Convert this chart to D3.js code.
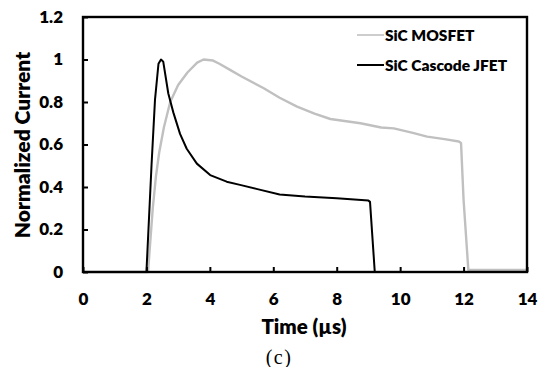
<!DOCTYPE html>
<html>
<head>
<meta charset="utf-8">
<script src="https://cdn.jsdelivr.net/npm/d3@7/dist/d3.min.js"></script>
<style>
  html, body { margin: 0; padding: 0; background: #fff; }
  svg { display: block; }
  text { font-family: Lato, "Open Sans", sans-serif; font-weight: bold; }
</style>
</head>
<body>
<svg id="chart" width="540" height="367"></svg>
<script>
// Turn-off current waveforms, normalized to their own peaks
const mosfetTime    = [0, 2.05, 2.1, 2.2, 2.3, 2.4, 2.55, 2.75, 3.0, 3.3, 3.6, 3.8, 4.1, 4.3, 4.65, 5.0, 5.7, 6.2, 6.75, 7.3, 7.8, 8.75, 9.4, 9.8, 10.4, 10.85, 11.4, 11.85, 11.92, 12.0, 12.15, 14];
const mosfetCurrent = [0, 0, 0.1, 0.3, 0.45, 0.56, 0.68, 0.8, 0.88, 0.94, 0.985, 1.0, 0.995, 0.98, 0.95, 0.92, 0.865, 0.82, 0.778, 0.745, 0.72, 0.70, 0.68, 0.676, 0.655, 0.637, 0.625, 0.614, 0.607, 0.34, 0.01, 0.01];

const jfetTime    = [0, 2.0, 2.16, 2.27, 2.38, 2.46, 2.53, 2.69, 2.85, 3.06, 3.27, 3.59, 4.01, 4.53, 4.95, 5.5, 6.2, 7.0, 8.0, 9.0, 9.05, 9.2, 14];
const jfetCurrent = [0, 0, 0.5, 0.81, 0.98, 1.0, 0.99, 0.84, 0.75, 0.65, 0.58, 0.51, 0.456, 0.425, 0.41, 0.39, 0.365, 0.355, 0.347, 0.336, 0.33, 0, 0];

const xTicks = [0, 2, 4, 6, 8, 10, 12, 14];
const yTicks = [0, 0.2, 0.4, 0.6, 0.8, 1, 1.2];
const seriesNames  = ["SiC MOSFET", "SiC Cascode JFET"];
const seriesColors = ["#c0c0c0", "#000000"];

const svg = d3.select("#chart");
const margin = { left: 83, top: 17, right: 13, bottom: 95 };
const W = 540 - margin.left - margin.right;
const H = 367 - margin.top - margin.bottom;

const x = d3.scaleLinear().domain([0, 14]).range([0, W]);
const y = d3.scaleLinear().domain([0, 1.2]).range([H, 0]);

const g = svg.append("g").attr("transform", `translate(${margin.left},${margin.top})`);

// Series lines
const line = d3.line().x(d => x(d[0])).y(d => y(d[1]));
const series = [
  d3.zip(mosfetTime, mosfetCurrent),
  d3.zip(jfetTime, jfetCurrent)
];
series.forEach((pts, i) => {
  g.append("path")
    .datum(pts)
    .attr("fill", "none")
    .attr("stroke", seriesColors[i])
    .attr("stroke-width", i === 0 ? 2.4 : 2)
    .attr("stroke-linejoin", "round")
    .attr("d", line);
});

// Axes with inward ticks
const xAxis = g.append("g").attr("transform", `translate(0,${H})`)
  .call(d3.axisBottom(x).tickValues(xTicks).tickSizeInner(-5).tickSizeOuter(0).tickPadding(21).tickFormat(d3.format("d")));
const yAxis = g.append("g")
  .call(d3.axisLeft(y).tickValues(yTicks).tickSizeInner(-5).tickSizeOuter(0).tickPadding(20).tickFormat(d => d === 0 || d === 1 ? d3.format("d")(d) : d3.format(".1f")(d)));
[xAxis, yAxis].forEach(a => {
  a.select(".domain").remove();
  a.selectAll(".tick line").attr("stroke", "#000").attr("stroke-width", 2);
  a.selectAll(".tick text").attr("fill", "#000").style("font-size", "17px").style("font-weight", "800");
});

// Plot frame
g.append("rect").attr("x", 0).attr("y", 0).attr("width", W).attr("height", H)
  .attr("fill", "none").attr("stroke", "#000").attr("stroke-width", 2.4);

// Axis titles
svg.append("text")
  .attr("x", 304).attr("y", 334)
  .attr("text-anchor", "middle").style("font-size", "20.5px").style("font-weight", "800")
  .text("Time (µs)");
svg.append("text")
  .attr("transform", `translate(30,${(53 + 237) / 2}) rotate(-90)`)
  .attr("text-anchor", "middle").style("font-size", "21px").style("font-weight", "800")
  .text("Normalized Current");

// Panel label
svg.append("text")
  .attr("x", 279).attr("y", 364)
  .attr("text-anchor", "middle")
  .style("font-family", "'Liberation Serif', 'Times New Roman', serif")
  .style("font-weight", "normal").style("font-size", "20px")
  .style("letter-spacing", "1.5px")
  .text("(c)");

// Legend
const legend = svg.append("g");
seriesNames.forEach((name, i) => {
  const ly = 35 + i * 30;
  legend.append("line")
    .attr("x1", 357).attr("x2", 384).attr("y1", ly).attr("y2", ly)
    .attr("stroke", seriesColors[i]).attr("stroke-width", i === 0 ? 1.6 : 2);
  legend.append("text")
    .attr("x", 385).attr("y", ly).attr("dy", "0.36em")
    .style("font-size", "15.5px").style("font-weight", "800")
    .text(name);
});
</script>
</body>
</html>
